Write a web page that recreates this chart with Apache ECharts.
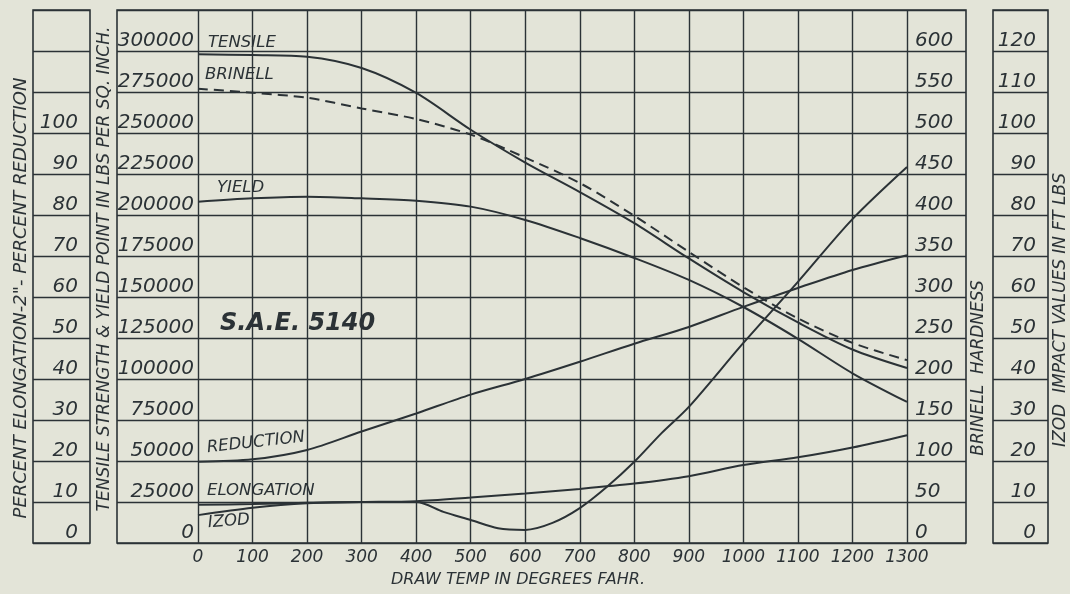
<!DOCTYPE html>
<html>
<head>
<meta charset="utf-8">
<title>S.A.E. 5140</title>
<script src="https://cdn.jsdelivr.net/npm/echarts@6/dist/echarts.min.js"></script>
<style>
    html, body { margin: 0; padding: 0; background: #e3e4d8; }
    #chart { width: 1070px; height: 594px; }
</style>
</head>
<body>
<div id="chart"></div>
<script>
/* values */
const temps = [0, 100, 200, 300, 400, 500, 600, 700, 800, 900, 1000, 1100, 1200, 1300];
const tensile = [298000, 297500, 296500, 289600, 274400, 252000, 232000, 214000, 195000, 173500, 153000, 134500, 118000, 106700];
const yieldPoint = [208100, 210200, 211200, 210200, 208700, 205100, 197000, 186000, 173800, 160400, 143900, 124500, 103500, 86000];
const brinell = [554, 549, 543, 530, 517, 498, 470, 439, 399, 355, 312, 274, 244, 223];
const reduction = [19.8, 20.4, 22.7, 27.2, 31.6, 36.2, 40.0, 44.2, 48.6, 52.7, 57.6, 62.2, 66.6, 70.2];
const elongation = [9.3, 9.5, 9.8, 10.0, 10.2, 11.1, 12.1, 13.2, 14.5, 16.3, 19.0, 20.9, 23.3, 26.3];
const izodTemps = [0, 100, 200, 300, 400, 450, 500, 550, 600, 650, 700, 750, 800, 850, 900, 1000, 1100, 1200, 1300];
const izod = [6.8, 8.6, 9.7, 10.0, 10.0, 7.6, 5.6, 3.6, 3.2, 4.9, 8.5, 13.7, 19.8, 26.8, 33.2, 48.8, 63.7, 79.0, 91.7];

const INK = '#2b3236';
const FONT = 'DejaVu Sans';

const pairs = (xs, ys) => xs.map((x, i) => [x, ys[i]]);
const upTo = (max) => (v) => (v > max ? '' : String(v));

const gridLine = { show: true, lineStyle: { color: INK, width: 1.4 } };
const tickFont = { color: INK, fontFamily: FONT, fontStyle: 'italic', fontSize: 20 };

/* y axis whose labels sit just above their line, like the original */
function cellAxis (gridIndex, max, step, opts, labelOpts) {
    return Object.assign({
        type: 'value', gridIndex: gridIndex, min: 0, max: max, interval: step,
        axisLine: { show: false }, axisTick: { show: false }, splitLine: { show: false },
        axisLabel: Object.assign({ verticalAlign: 'bottom', padding: 0, showMinLabel: true, showMaxLabel: true }, tickFont, labelOpts)
    }, opts);
}

function curve (name, data, yIndex, dashed) {
    return {
        name: name, type: 'line', xAxisIndex: 0, yAxisIndex: yIndex, data: data,
        showSymbol: false, smooth: 0.3, z: 5,
        lineStyle: { color: INK, width: 2, type: dashed ? [10, 6] : 'solid' }
    };
}

function label (text, x, y, font, opts, align) {
    return Object.assign({
        type: 'text', x: x, y: y, z: 10,
        style: { text: text, fill: INK, font: font, align: align || 'left', textAlign: align || 'left', verticalAlign: 'middle', textVerticalAlign: 'middle' }
    }, opts);
}
const italic = (size) => 'italic ' + size + 'px "' + FONT + '"';
const vlabel = (text, x, y, size) => label(text, x, y, italic(size), { rotation: Math.PI / 2 }, 'center');

const chart = echarts.init(document.getElementById('chart'));
chart.setOption({
    animation: false,
    backgroundColor: '#e3e4d8',
    grid: [
        { left: 198, top: 10, width: 709, height: 533 },
        { left: 117, top: 10, width: 849, height: 533, show: true, borderColor: INK, borderWidth: 1.6 },
        { left: 33, top: 10, width: 57, height: 533, show: true, borderColor: INK, borderWidth: 1.6 },
        { left: 993, top: 10, width: 55, height: 533, show: true, borderColor: INK, borderWidth: 1.6 }
    ],
    xAxis: [
        {
            type: 'value', gridIndex: 0, min: 0, max: 1300, interval: 100,
            axisLine: { show: false }, axisTick: { show: false }, splitLine: gridLine,
            axisLabel: Object.assign({}, tickFont, { margin: 6, fontSize: 17, showMinLabel: true, showMaxLabel: true, formatter: (v) => String(v) })
        },
        { type: 'value', gridIndex: 1, show: false },
        { type: 'value', gridIndex: 2, show: false },
        { type: 'value', gridIndex: 3, show: false }
    ],
    yAxis: [
        cellAxis(0, 325000, 25000, { position: 'left' }, { margin: 4, formatter: upTo(300000) }),
        cellAxis(0, 650, 50, { position: 'right' }, { margin: 8, formatter: upTo(600) }),
        cellAxis(1, 325000, 25000, { splitLine: gridLine }, { show: false }),
        cellAxis(2, 130, 10, { position: 'right', splitLine: gridLine }, { inside: true, margin: 12, formatter: upTo(100) }),
        cellAxis(3, 130, 10, { position: 'right', splitLine: gridLine }, { inside: true, margin: 12, formatter: upTo(120) }),
        cellAxis(0, 130, 10, { show: false })
    ],
    series: [
        curve('Tensile', pairs(temps, tensile), 0),
        curve('Yield', pairs(temps, yieldPoint), 0),
        curve('Brinell', pairs(temps, brinell), 1, true),
        curve('Reduction', pairs(temps, reduction), 5),
        curve('Elongation', pairs(temps, elongation), 5),
        curve('Izod', pairs(izodTemps, izod), 5)
    ],
    graphic: [
        vlabel('PERCENT ELONGATION-2"- PERCENT REDUCTION', 21, 298, 18),
        vlabel('TENSILE STRENGTH & YIELD POINT IN LBS PER SQ. INCH.', 105, 269, 17),
        vlabel('BRINELL  HARDNESS', 979, 368, 17),
        vlabel('IZOD  IMPACT VALUES IN FT LBS', 1061, 310, 17),
        label('DRAW TEMP IN DEGREES FAHR.', 518, 580, italic(16), {}, 'center'),
        label('S.A.E. 5140', 220, 324, 'italic bold 24px "' + FONT + '"'),
        label('TENSILE', 208, 43, italic(16.5)),
        label('BRINELL', 205, 75, italic(16.5)),
        label('YIELD', 217, 188, italic(16.5)),
        label('REDUCTION', 207, 448, italic(16.5), { rotation: 0.11 }),
        label('ELONGATION', 207, 491, italic(16.5)),
        label('IZOD', 208, 523, italic(16.5), { rotation: 0.08 })
    ]
});
</script>
</body>
</html>
